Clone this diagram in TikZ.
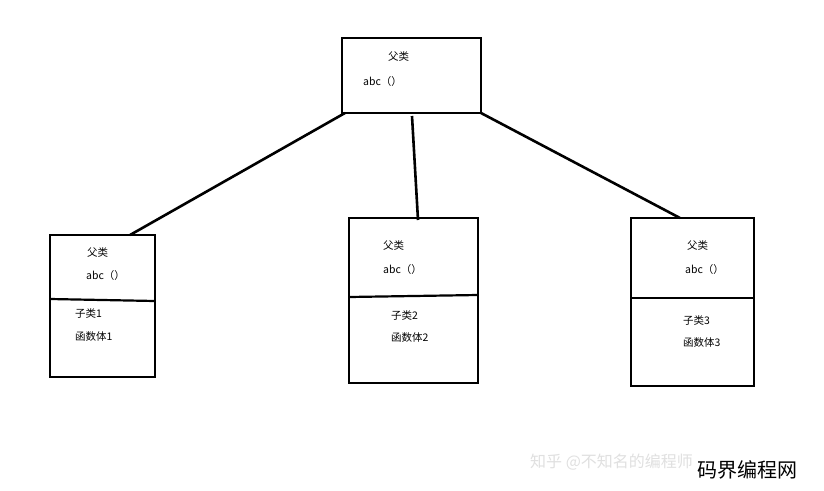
\documentclass[tikz,border=0pt]{standalone}
\usepackage{fontspec}
\setmainfont{Noto Sans CJK SC}
\begin{document}
\begin{tikzpicture}[x=1pt,y=-1pt,
 box/.style={draw,line width=2.2pt,inner sep=0},
 lbl/.style={font=\fontsize{10.5}{11}\selectfont,anchor=west,inner sep=0},
 conn/.style={line width=2.6pt}]
\useasboundingbox (0,0) rectangle (824,490);
\fill[white] (0,0) rectangle (824,490);
% top
\draw[box] (342,38) rectangle (481,113);
\coordinate (tl) at (345,113); \coordinate (tm) at (412,116); \coordinate (tr) at (481,113);
\node[lbl] (t1) at (388,57) {父类};
\node[lbl] (t2) at (363,82) {abc（）};
% left
\draw[box] (50,235) rectangle (155,377);
\draw[line width=2.2pt] (50,299) -- (155,301);
\coordinate (lt) at (130,235);
\node[lbl] (l1) at (87,253) {父类};
\node[lbl] (l2) at (86,276) {abc（）};
\node[lbl] (l3) at (75,314) {子类1};
\node[lbl] (l4) at (75,337) {函数体1};
% middle
\draw[box] (349,218) rectangle (478,383);
\draw[line width=2.2pt] (349,297) -- (478,295);
\coordinate (mt) at (418,220);
\node[lbl] (m1) at (383,246) {父类};
\node[lbl] (m2) at (383,270) {abc（）};
\node[lbl] (m3) at (391,316) {子类2};
\node[lbl] (m4) at (391,338) {函数体2};
% right
\draw[box] (631,218) rectangle (754,386);
\draw[line width=2.2pt] (631,298) -- (754,298);
\coordinate (rt) at (680,218);
\node[lbl] (r1) at (687,246) {父类};
\node[lbl] (r2) at (685,270) {abc（）};
\node[lbl] (r3) at (683,321) {子类3};
\node[lbl] (r4) at (683,343) {函数体3};
\draw[conn] (tl) -- (lt);
\draw[conn] (tm) -- (mt);
\draw[conn] (tr) -- (rt);
\node[lbl,text=black!12,font=\fontsize{16}{17}\selectfont] (w1) at (530,462) {知乎 @不知名的编程师};
\node[lbl,font=\fontsize{20}{21}\selectfont] (w2) at (697,470) {码界编程网};
\end{tikzpicture}
\end{document}
